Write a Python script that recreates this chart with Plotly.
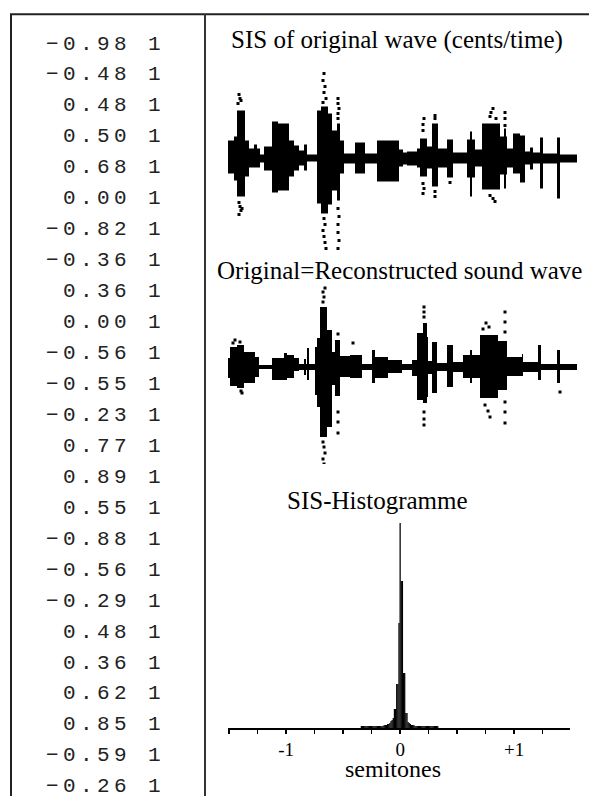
import plotly.graph_objects as go

# ---------------- data ----------------
# left column: SIS values (semitones) and their weights
sis_values = [-0.98, -0.48, 0.48, 0.50, 0.68, 0.00, -0.82, -0.36, 0.36, 0.00,
              -0.56, -0.55, -0.23, 0.77, 0.89, 0.55, -0.88, -0.56, -0.29, 0.48,
              0.36, 0.62, 0.85, -0.59, -0.26]
sis_weights = [1, 1, 1, 1, 1, 1, 1, 1, 1, 1, 1, 1, 1, 1, 1, 1, 1, 1, 1, 1, 1, 1, 1, 1, 1]

# waveform envelopes: (t_start, t_end, upper amplitude, lower amplitude), time in cs
wave1_env = [
    (0, 6, 18, 15), (6, 9, 22, 22), (9, 17, 48, 38), (17, 21, 18, 18),
    (21, 26, 10, 9), (26, 29, 14, 9), (29, 32, 10, 9), (32, 36, 4, 4),
    (36, 44, 12, 12), (44, 50, 37, 34), (50, 61, 35, 32), (61, 66, 18, 18),
    (66, 71, 13, 12), (71, 76, 8, 7), (76, 79, 14, 12), (79, 89, 4, 3),
    (89, 93, 48, 45), (93, 100, 52, 55), (100, 104, 45, 46), (104, 109, 28, 32),
    (109, 112, 35, 42), (112, 116, 18, 15), (116, 127, 5, 5), (127, 137, 16, 15),
    (137, 149, 5, 5), (149, 171, 18, 23), (171, 175, 9, 8), (175, 179, 6, 6),
    (179, 189, 7, 7), (189, 192, 10, 9), (192, 199, 20, 18), (199, 204, 12, 10),
    (204, 210, 35, 28), (210, 219, 10, 9), (219, 225, 19, 19), (225, 239, 6, 5),
    (239, 242, 19, 19), (242, 244, 27, 38), (244, 247, 19, 19), (247, 254, 9, 8),
    (254, 272, 35, 31), (272, 276, 22, 16), (276, 278, 30, 30), (278, 279, 22, 16),
    (279, 285, 10, 9), (285, 292, 25, 15), (292, 297, 23, 24), (297, 302, 7, 6),
    (302, 305, 11, 11), (305, 312, 6, 5), (312, 315, 21, 30), (315, 329, 5, 5),
    (329, 332, 21, 40), (332, 349, 4, 4),
]
wave1_dots_t = [10, 12, 11, 13, 11, 12, 13, 11, 14,
                96, 95, 97, 96, 98, 95, 96, 97, 95, 96, 97, 98,
                110, 110, 111, 110, 110, 110, 111, 110, 110, 111, 110,
                195, 195, 196, 195, 196, 195, 207, 207, 207, 207,
                262, 263, 265, 268, 262, 265, 267, 277, 277, 277, 222]
wave1_dots_a = [55, 60, 64, 58, -44, -48, -52, -56, -50,
                85, 78, 72, 66, 60, 56, -60, -66, -72, -78, -84, -90,
                40, 45, 50, 55, 60, -50, -58, -66, -74, -82, -90,
                28, 34, 40, -25, -30, -35, 40, 43, -33, -38,
                42, 46, 50, 40, -37, -40, -43, 33, 40, 46, -24]

wave2_env = [
    (0, 2, 9, 11), (2, 9, 20, 19), (9, 16, 22, 21), (16, 27, 15, 16),
    (27, 31, 10, 10), (31, 44, 2, 2), (44, 56, 9, 13), (56, 59, 14, 13),
    (59, 66, 12, 11), (66, 71, 9, 4), (71, 76, 3, 3), (76, 78, 8, 8),
    (78, 79, 3, 3), (79, 81, 19, 13), (81, 87, 3, 3), (87, 89, 20, 28),
    (89, 92, 29, 40), (92, 99, 60, 70), (99, 104, 37, 60), (104, 107, 15, 18),
    (107, 112, 27, 29), (112, 122, 11, 10), (122, 134, 12, 11), (134, 144, 3, 3),
    (144, 147, 17, 16), (147, 160, 10, 11), (160, 174, 7, 6), (174, 184, 3, 3),
    (184, 189, 7, 9), (189, 195, 34, 33), (195, 199, 44, 36), (199, 200, 30, 30),
    (200, 204, 6, 7), (204, 209, 25, 26), (209, 219, 4, 4), (219, 225, 22, 20),
    (225, 235, 5, 5), (235, 242, 12, 11), (242, 244, 17, 16), (244, 252, 12, 11),
    (252, 270, 32, 31), (270, 279, 26, 23), (279, 294, 10, 9), (294, 295, 13, 9),
    (295, 310, 5, 5), (310, 313, 22, 13), (313, 329, 3, 3), (329, 332, 17, 16),
    (332, 349, 3, 3),
]
wave2_dots_t = [5, 7, 12, 13, 14,
                95, 96, 95, 97, 95, 96, 97, 95, 96, 97,
                110, 110, 110, 110, 125,
                196, 196, 196, 196, 196, 196,
                255, 258, 261, 257, 260, 262,
                277, 277, 277, 277, 277, 277, 332]
wave2_dots_a = [24, 27, 25, -24, -26,
                65, 70, 75, 79, -75, -80, -86, -92, -97, -103,
                33, -45, -55, -66, 24,
                50, 55, 60, -45, -52, -58,
                38, 44, 40, -38, -44, -50,
                35, 45, 55, -35, -45, -56, -25]

# SIS histogram (bin centres in semitones, relative counts)
hist_centres = [-0.34, -0.33, -0.32, -0.31, -0.30, -0.29, -0.28, -0.27, -0.26, -0.25,
                -0.24, -0.23, -0.22, -0.21, -0.20, -0.19, -0.18, -0.17, -0.16, -0.15,
                -0.14, -0.13, -0.12, -0.11, -0.10, -0.09, -0.08, -0.07, -0.06, -0.05,
                -0.04, -0.03, -0.02, -0.01, 0.00, 0.01, 0.02, 0.03, 0.04, 0.05,
                0.06, 0.07, 0.08, 0.09, 0.10, 0.11, 0.12, 0.13, 0.14, 0.15,
                0.16, 0.17, 0.18, 0.19, 0.20, 0.21, 0.22, 0.23, 0.24, 0.25,
                0.26, 0.27, 0.28, 0.29, 0.30, 0.31, 0.32, 0.33]
hist_counts = [2, 2, 2, 2, 2, 2, 2, 2, 2, 2,
               2, 2, 2, 2, 2, 2, 2, 2, 2, 2,
               3, 3, 3, 4, 4, 5, 7, 8, 10, 19,
               19, 44, 44, 105, 205, 147, 147, 55, 55, 15,
               15, 6, 5, 4, 3, 3, 3, 2, 2, 2,
               2, 2, 2, 2, 2, 2, 2, 2, 2, 2,
               2, 2, 2, 2, 2, 2, 2, 2]

tick_vals = [-1.5, -1.25, -1.0, -0.75, -0.5, -0.25, 0.0, 0.25, 0.5, 0.75, 1.0, 1.25, 1.5]
tick_text = ["", "", "-1", "", "", "", "0", "", "", "", "+1", "", ""]

# ---------------- figure ----------------
W, H = 589, 796


def fx(p):
    return p / W


def fy(p):
    return 1 - p / H


fig = go.Figure()

for env, dts, das, xa, ya in [(wave1_env, wave1_dots_t, wave1_dots_a, "x", "y"),
                              (wave2_env, wave2_dots_t, wave2_dots_a, "x2", "y2")]:
    fig.add_trace(go.Bar(
        x=[(a + b) / 2 for a, b, u, d in env],
        width=[b - a for a, b, u, d in env],
        base=[-d for a, b, u, d in env],
        y=[u + d for a, b, u, d in env],
        marker=dict(color="black", line=dict(width=0)),
        xaxis=xa, yaxis=ya, showlegend=False, hoverinfo="skip"))
    fig.add_trace(go.Scatter(
        x=dts, y=das, mode="markers",
        marker=dict(color="black", size=3, symbol="square", line=dict(width=0)),
        xaxis=xa, yaxis=ya, showlegend=False, hoverinfo="skip"))

fig.add_trace(go.Bar(
    x=hist_centres, y=hist_counts, width=0.011,
    marker=dict(color="black", line=dict(width=0)),
    xaxis="x3", yaxis="y3", showlegend=False, hoverinfo="skip"))

serif = "Liberation Serif, Times New Roman, serif"
mono = "Liberation Mono, Courier New, monospace"

annotations = []
# left column of values, character by character on a fixed grid
for i, (v, w) in enumerate(zip(sis_values, sis_weights)):
    s = f"{v:5.2f} {w}".replace("-", "\u2212")
    py = 45 + 30.95 * i - 1
    for j, ch in enumerate(s):
        if ch == " ":
            continue
        annotations.append(dict(
            x=fx(52.5 + 17 * j), y=fy(py), xref="paper", yref="paper",
            text=ch, showarrow=False, xanchor="center", yanchor="middle",
            font=dict(family=mono, size=21, color="#222222")))

for txt, cx, cy, sz in [("SIS of original wave (cents/time)", 397, 40, 25),
                        ("Original=Reconstructed sound wave", 399, 270, 25),
                        ("SIS-Histogramme", 378, 500, 25),
                        ("semitones", 393, 769, 24)]:
    annotations.append(dict(
        x=fx(cx), y=fy(cy), xref="paper", yref="paper", text=txt,
        showarrow=False, xanchor="center", yanchor="middle",
        font=dict(family=serif, size=sz, color="black")))

shapes = [
    dict(type="line", xref="paper", yref="paper", x0=fx(11), x1=fx(11), y0=fy(14), y1=fy(800),
         line=dict(color="#222222", width=2)),
    dict(type="line", xref="paper", yref="paper", x0=fx(10), x1=fx(595), y0=fy(14.3), y1=fy(14.3),
         line=dict(color="#222222", width=2)),
    dict(type="line", xref="paper", yref="paper", x0=fx(205), x1=fx(205), y0=fy(14), y1=fy(800),
         line=dict(color="#333333", width=2)),
]

fig.update_layout(
    width=W, height=H, margin=dict(l=0, r=0, t=0, b=0),
    paper_bgcolor="white", plot_bgcolor="rgba(0,0,0,0)",
    barmode="overlay", showlegend=False,
    xaxis=dict(domain=[fx(228), fx(578)], range=[0, 350], visible=False, anchor="y"),
    yaxis=dict(domain=[fy(257), fy(60)], range=[-98.5, 98.5], visible=False, anchor="x"),
    xaxis2=dict(domain=[fx(228), fx(578)], range=[0, 350], visible=False, anchor="y2"),
    yaxis2=dict(domain=[fy(464), fy(270)], range=[-97, 97], visible=False, anchor="x2"),
    xaxis3=dict(domain=[fx(228), fx(570)], range=[-1.51, 1.49], anchor="y3",
                showline=True, linecolor="black", linewidth=2,
                ticks="outside", ticklen=4, tickwidth=1.5, tickcolor="black",
                tickvals=tick_vals, ticktext=tick_text, ticklabelstandoff=-1,
                tickfont=dict(family=serif, size=19, color="black"),
                showgrid=False, zeroline=False),
    yaxis3=dict(domain=[fy(728), fy(515)], range=[0, 213], visible=False, anchor="x3"),
    annotations=annotations, shapes=shapes,
)

fig.write_html(
    "out.html",
    config={"displayModeBar": False, "staticPlot": True},
    post_script="document.body.style.margin='0px';document.body.style.overflow='hidden';",
)
